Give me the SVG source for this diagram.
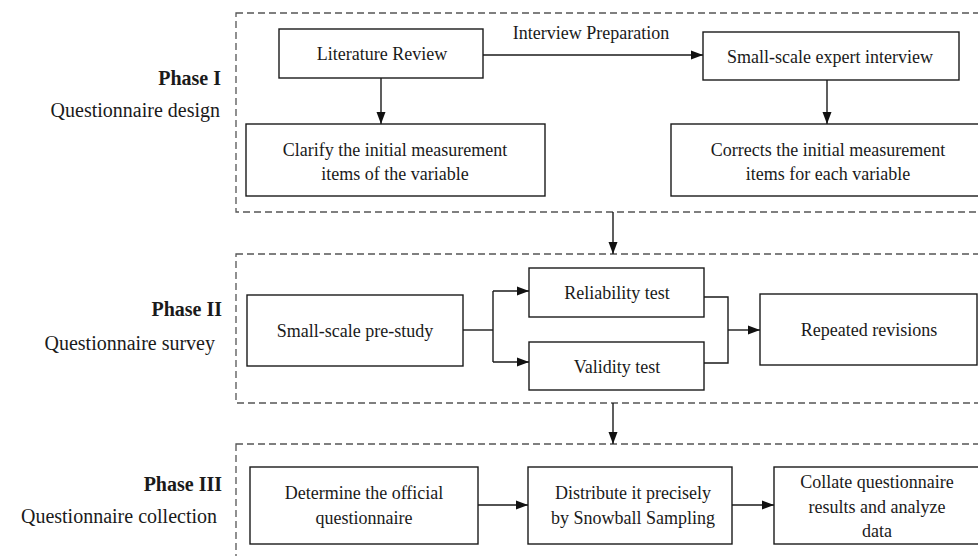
<svg xmlns="http://www.w3.org/2000/svg" width="978" height="556" viewBox="0 0 978 556">
  <defs>
    <marker id="arrow" markerUnits="userSpaceOnUse" markerWidth="13" markerHeight="10" refX="12" refY="5" orient="auto">
      <path d="M0,0.5 L12,5 L0,9.5 Z" fill="#111"/>
    </marker>
    <style>
      text { font-family: "Liberation Serif", "Times New Roman", serif; fill: #1a1a1a; }
      .node { font-size: 18px; text-anchor: middle; }
      .phase { font-size: 20px; font-weight: bold; text-anchor: end; }
      .sub { font-size: 20px; text-anchor: end; }
      .box { fill: #fff; stroke: #1a1a1a; stroke-width: 1.4; }
      .frame { fill: none; stroke: #555; stroke-width: 1.3; stroke-dasharray: 7 4; }
      .conn { fill: none; stroke: #1a1a1a; stroke-width: 1.4; }
    </style>
  </defs>
  <rect width="978" height="556" fill="#fff"/>

  <!-- phase frames -->
  <g id="frames">
    <rect class="frame" x="236" y="13" width="760" height="199"/>
    <rect class="frame" x="236" y="254" width="760" height="149"/>
    <rect class="frame" x="236" y="444" width="760" height="140"/>
  </g>

  <!-- phase captions -->
  <g id="phase1-label">
    <text class="phase" x="221" y="85">Phase I</text>
    <text class="sub" x="220" y="117">Questionnaire design</text>
  </g>
  <g id="phase2-label">
    <text class="phase" x="222" y="316">Phase II</text>
    <text class="sub" x="215" y="350">Questionnaire survey</text>
  </g>
  <g id="phase3-label">
    <text class="phase" x="222" y="491">Phase III</text>
    <text class="sub" x="217" y="523">Questionnaire collection</text>
  </g>

  <!-- connectors -->
  <g id="connectors">
    <line class="conn" x1="381" y1="78" x2="381" y2="124" marker-end="url(#arrow)"/>
    <line class="conn" x1="483" y1="55" x2="703" y2="55" marker-end="url(#arrow)"/>
    <text class="node" x="591" y="39">Interview Preparation</text>
    <line class="conn" x1="827" y1="80" x2="827" y2="124" marker-end="url(#arrow)"/>
    <line class="conn" x1="613" y1="212" x2="613" y2="254" marker-end="url(#arrow)"/>
    <path class="conn" d="M463,330 H493"/>
    <path class="conn" d="M493,291 V362"/>
    <line class="conn" x1="493" y1="291" x2="529" y2="291" marker-end="url(#arrow)"/>
    <line class="conn" x1="493" y1="362" x2="529" y2="362" marker-end="url(#arrow)"/>
    <path class="conn" d="M704,297 H728 V363 H704"/>
    <line class="conn" x1="728" y1="330" x2="760" y2="330" marker-end="url(#arrow)"/>
    <line class="conn" x1="613" y1="403" x2="613" y2="444" marker-end="url(#arrow)"/>
    <line class="conn" x1="478" y1="505" x2="528" y2="505" marker-end="url(#arrow)"/>
    <line class="conn" x1="732" y1="505" x2="774" y2="505" marker-end="url(#arrow)"/>
  </g>

  <!-- Phase I nodes -->
  <g id="literature-review">
    <rect class="box" x="279" y="29" width="204" height="49"/>
    <text class="node" x="382" y="60">Literature Review</text>
  </g>
  <g id="expert-interview">
    <rect class="box" x="703" y="32" width="256" height="48"/>
    <text class="node" x="830" y="63">Small-scale expert interview</text>
  </g>
  <g id="clarify-items">
    <rect class="box" x="246" y="124" width="299" height="72"/>
    <text class="node" x="395" y="156">Clarify the initial measurement</text>
    <text class="node" x="395" y="180">items of the variable</text>
  </g>
  <g id="correct-items">
    <rect class="box" x="671" y="124" width="320" height="72"/>
    <text class="node" x="828" y="156">Corrects the initial measurement</text>
    <text class="node" x="828" y="180">items for each variable</text>
  </g>

  <!-- Phase II nodes -->
  <g id="pre-study">
    <rect class="box" x="247" y="295" width="216" height="71"/>
    <text class="node" x="355" y="337">Small-scale pre-study</text>
  </g>
  <g id="reliability-test">
    <rect class="box" x="529" y="268" width="175" height="49"/>
    <text class="node" x="617" y="299">Reliability test</text>
  </g>
  <g id="validity-test">
    <rect class="box" x="529" y="342" width="175" height="48"/>
    <text class="node" x="617" y="373">Validity test</text>
  </g>
  <g id="repeated-revisions">
    <rect class="box" x="760" y="294" width="217" height="71"/>
    <text class="node" x="869" y="336">Repeated revisions</text>
  </g>

  <!-- Phase III nodes -->
  <g id="official-questionnaire">
    <rect class="box" x="250" y="467" width="228" height="77"/>
    <text class="node" x="364" y="499">Determine the official</text>
    <text class="node" x="364" y="524">questionnaire</text>
  </g>
  <g id="snowball-sampling">
    <rect class="box" x="528" y="467" width="204" height="77"/>
    <text class="node" x="633" y="499">Distribute it precisely</text>
    <text class="node" x="633" y="524">by Snowball Sampling</text>
  </g>
  <g id="collate-results">
    <rect class="box" x="774" y="467" width="216" height="77"/>
    <text class="node" x="877" y="488">Collate questionnaire</text>
    <text class="node" x="877" y="513">results and analyze</text>
    <text class="node" x="877" y="537">data</text>
  </g>
</svg>
